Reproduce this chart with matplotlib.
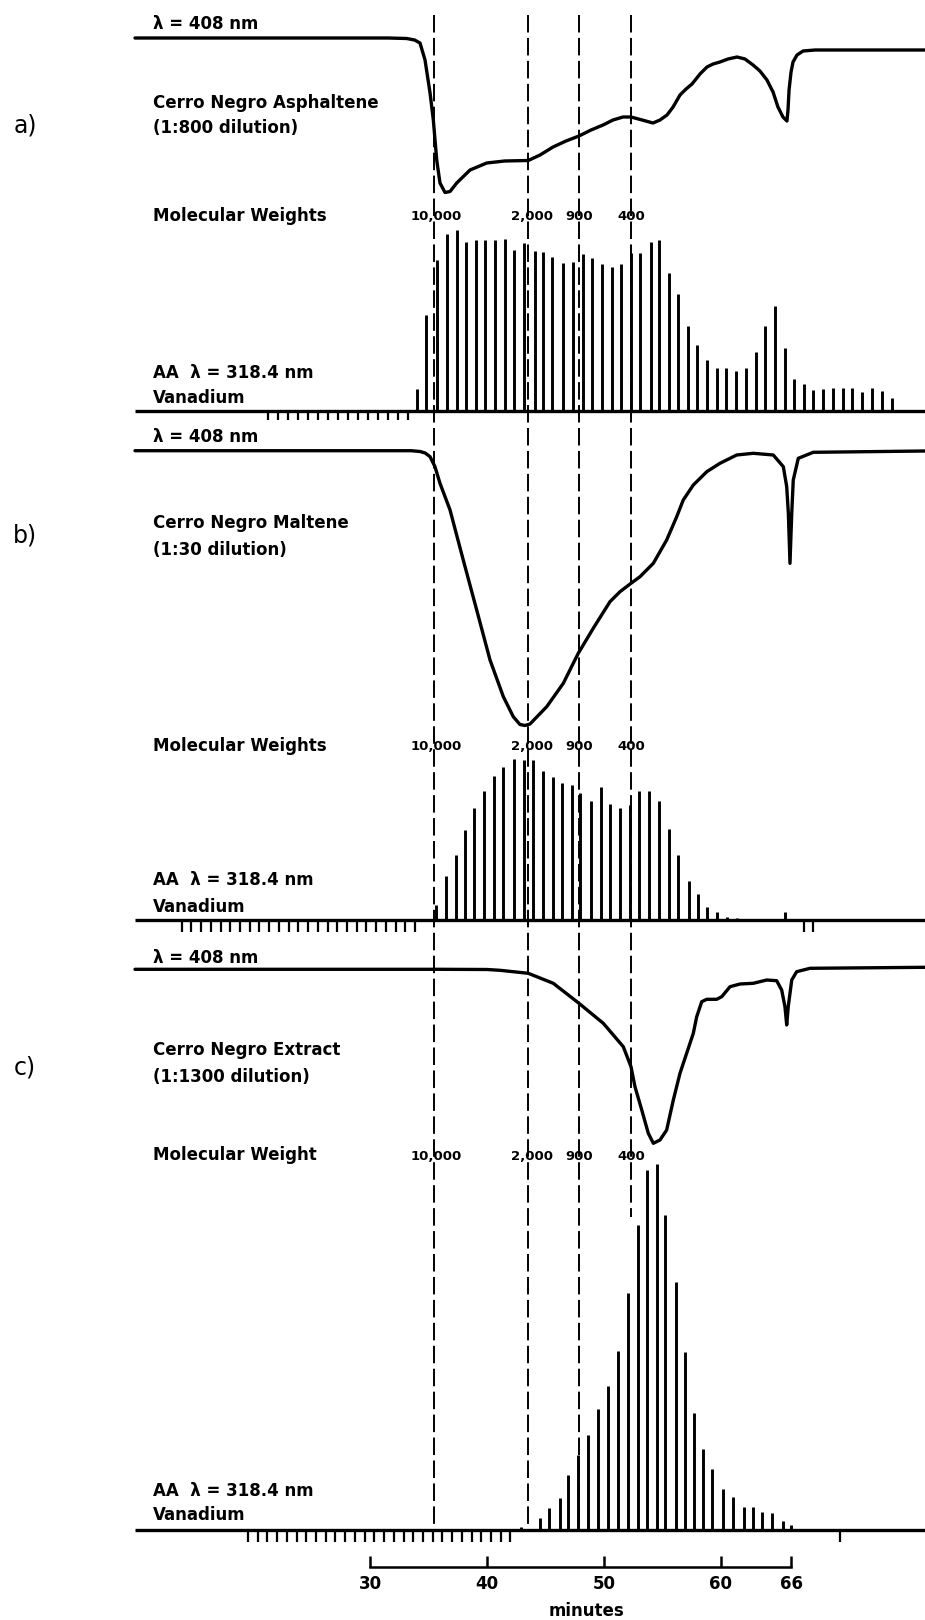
import numpy as np
import matplotlib
matplotlib.use("Agg")
import matplotlib.pyplot as plt

# ---------------- data ----------------
# molecular-weight calibration (retention time, minutes)
mw_labels = ["10,000", "2,000", "900", "400"]
mw_times = [35.48, 43.53, 47.86, 52.31]

# time axis
axis_ticks = [30, 40, 50, 60, 66]
axis_labels = ["30", "40", "50", "60", "66"]

# ---- UV-Vis traces, lambda = 408 nm (time in min, response in chart units; dips = absorbance)
uv_a_time = [9.88, 24.0, 31.5, 33.12, 33.8, 34.26, 34.69, 35.12, 35.40, 35.69, 35.97, 36.40, 36.83,
             37.40, 38.54, 39.97, 41.5, 43.52, 44.53, 45.64, 46.75, 47.86, 48.89, 49.92, 50.77, 51.63,
             52.31, 53.26, 54.19, 54.79, 55.39, 55.91, 56.50, 57.02, 57.53, 58.21, 58.81, 59.33, 59.92,
             60.61, 61.38, 62.06, 62.75, 63.34, 63.94, 64.46, 64.88, 65.31, 65.65, 65.74, 65.83, 66.00,
             66.17, 66.51, 67.03, 68.06, 77.47]
uv_a_resp = [0, 0, 0, -0.5, -2, -5, -22, -55, -82, -122, -145, -154.5, -153.5, -145, -132, -125, -123,
             -122.5, -117, -109, -103, -98, -92, -87, -82, -79, -79, -82, -85, -82, -77, -69, -57, -51,
             -46, -36, -29, -26, -24, -21, -19, -21, -27, -33, -42, -54, -69, -79, -83, -72, -52, -34,
             -24, -17, -13, -12, -12]

uv_b_time = [9.88, 24.0, 33.5, 34.26, 34.7, 35.12, 35.54, 35.97, 36.83, 37.96, 39.11, 40.25, 41.39,
             42.24, 42.81, 43.24, 43.67, 45.10, 46.52, 47.37, 47.80, 49.08, 50.51, 51.37, 52.31, 53.08,
             54.22, 55.36, 56.22, 56.78, 57.64, 58.79, 59.92, 61.35, 62.77, 64.48, 65.34, 65.63, 65.77,
             65.91, 66.06, 66.19, 66.62, 67.90, 77.46]
uv_b_resp = [0, 0, 0, -0.8, -2.3, -6, -16, -32.6, -59.3, -109.3, -159.3, -209.3, -246, -266, -273.8,
             -274.8, -273.3, -256, -232.6, -212.6, -202.6, -177.6, -151, -141, -132.6, -126, -112.6,
             -89.3, -66, -49.3, -34.3, -21, -12.6, -4.3, -2.6, -4.3, -16, -36, -62.6, -112.6, -62.6,
             -29.3, -7.6, -1.6, -0.3]

uv_c_time = [9.88, 24.0, 36.0, 39.99, 41.1, 42.24, 43.52, 45.66, 47.86, 49.94, 51.65, 52.31, 52.65,
             53.23, 53.79, 54.22, 54.79, 55.36, 55.93, 56.50, 57.07, 57.64, 57.93, 58.36, 58.79, 59.64,
             60.07, 60.78, 61.64, 62.77, 63.92, 64.77, 65.20, 65.48, 65.63, 65.76, 66.06, 66.48, 67.62,
             77.46]
uv_c_resp = [0, 0, 0, -0.2, -1, -2.4, -4, -14, -34, -54, -77.4, -97.4, -117.4, -140.7, -164, -174,
             -170.7, -160.7, -130.7, -104, -84, -64, -47.4, -32.4, -30, -30, -27.4, -17.4, -14.7, -14,
             -10.7, -11.4, -20.7, -37.4, -55.7, -37.4, -10.7, -2.4, 1, 2]

# ---- AA vanadium (318.4 nm) fraction responses
v_a_time = [33.98, 34.77, 35.69, 36.54, 37.40, 38.17, 39.05, 39.82, 40.68, 41.53, 42.30, 43.16, 44.10,
            44.76, 45.58, 46.47, 47.32, 48.18, 48.97, 49.83, 50.66, 51.45, 52.31, 53.08, 53.99, 54.73,
            55.59, 56.36, 57.19, 57.96, 58.84, 59.64, 60.41, 61.29, 62.12, 62.98, 63.80, 64.65, 65.46,
            66.28, 67.08, 67.90, 68.76, 69.59, 70.42, 71.24, 72.10, 72.95, 73.76, 74.64]
v_a_height = [22, 96, 151, 177, 181, 169, 171, 171, 171, 172, 161, 168, 160, 159, 154, 148, 149, 157,
              153, 147, 144, 147, 158, 158, 169, 171, 138, 117, 85, 66, 51, 43, 43, 40, 43, 59, 85, 105,
              63, 32, 27, 21, 22, 23, 23, 23, 19, 23, 20, 13]
v_a_empty = [21.26, 22.12, 22.97, 23.83, 24.68, 25.54, 26.40, 27.25, 28.11, 28.96, 29.82, 30.68, 31.53,
             32.39, 33.24]

v_b_time = [35.63, 36.48, 37.34, 38.11, 38.91, 39.74, 40.60, 41.39, 42.30, 43.13, 43.93, 44.76, 45.61,
            46.43, 47.24, 47.97, 48.91, 49.77, 50.51, 51.37, 52.25, 53.02, 53.85, 54.73, 55.56, 56.36,
            57.25, 58.07, 58.79, 59.69, 60.50, 61.35, 65.48]
v_b_height = [15, 44, 65, 90, 112, 129, 144, 153, 161, 160, 160, 149, 143, 137, 135, 127, 119, 133, 116,
              112, 115, 129, 129, 119, 91, 65, 39, 26, 13, 8, 3, 2.5, 8]
v_b_empty = [13.88, 14.71, 15.54, 16.37, 17.21, 18.04, 18.87, 19.70, 20.53, 21.36, 22.19, 23.03, 23.86,
             24.69, 25.52, 26.35, 27.18, 28.01, 28.85, 29.68, 30.51, 31.34, 32.17, 33.00, 33.83, 67.10,
             67.87]

v_c_time = [42.90, 44.49, 45.33, 46.20, 46.95, 47.80, 48.61, 49.51, 50.35, 51.17, 52.02, 52.87, 53.70,
            54.53, 55.26, 56.16, 56.92, 57.66, 58.44, 59.28, 60.18, 61.05, 61.95, 62.76, 63.54, 64.41,
            65.28, 66.00]
v_c_height = [3, 12, 22, 32, 55, 75, 95, 121, 144, 179, 237, 305, 360, 366, 315, 248, 178, 117, 81, 61,
              41, 33, 23, 23, 18, 17, 9, 5]
v_c_empty = [19.55, 20.38, 21.21, 22.04, 22.88, 23.71, 24.54, 25.37, 26.20, 27.03, 27.86, 28.70, 29.53,
             30.36, 31.19, 32.02, 32.85, 33.68, 34.52, 35.35, 36.18, 37.01, 37.84, 38.67, 39.50, 40.34,
             41.17, 42.00, 70.17]

trace_start = 9.88

# ---------------- layout ----------------
W, H = 925, 1620
X0_PX, MIN0, PX_PER_MIN = 370.2, 30.0, 11.69
XLIM = (MIN0 - X0_PX / PX_PER_MIN, MIN0 + (W - X0_PX) / PX_PER_MIN)

fig = plt.figure(figsize=(W / 100, H / 100), dpi=100)
fig.patch.set_facecolor("white")

BOLD = dict(family="DejaVu Sans", fontweight="bold", color="black")


def add_strip(y_top, y_bot, ref):
    ax = fig.add_axes([0, 1 - y_bot / H, 1, (y_bot - y_top) / H])
    ax.set_xlim(*XLIM)
    ax.set_ylim(ref - y_bot, ref - y_top)
    ax.set_axis_off()
    return ax


# page axes: x in minutes, y in pixel rows
page = fig.add_axes([0, 0, 1, 1])
page.set_xlim(*XLIM)
page.set_ylim(H, 0)
page.set_axis_off()

# page axes for free text (pixels)
txt = fig.add_axes([0, 0, 1, 1])
txt.set_xlim(0, W)
txt.set_ylim(H, 0)
txt.set_axis_off()

# dashed calibration lines
dash_bottoms = [1530, 1528, 1530, 1217]
for t, yb in zip(mw_times, dash_bottoms):
    page.plot([t, t], [15, yb], color="black", lw=1.4, dashes=(9, 2.8))

# ---- UV traces
uv_sets = [
    (uv_a_time, uv_a_resp, 0, 230, 38),
    (uv_b_time, uv_b_resp, 425, 740, 450.7),
    (uv_c_time, uv_c_resp, 940, 1160, 969.3),
]
for tt, rr, yt, yb, ref in uv_sets:
    ax = add_strip(yt, yb, ref)
    ax.plot(tt, rr, color="black", lw=2.4, solid_joinstyle="round", solid_capstyle="round")

# ---- vanadium fractions
v_sets = [
    (v_a_time, v_a_height, v_a_empty, 200, 440, 410.5, 9),
    (v_b_time, v_b_height, v_b_empty, 740, 950, 920, 12),
    (v_c_time, v_c_height, v_c_empty, 1150, 1555, 1530, 12),
]
for tt, hh, ee, yt, yb, ref, tl in v_sets:
    ax = add_strip(yt, yb, ref)
    ax.hlines(0, trace_start, XLIM[1], color="black", lw=2.4)
    ax.vlines(tt, 0, hh, color="black", lw=2.1)
    ax.vlines(ee, -tl, 0, color="black", lw=1.6)

# ---- MW labels
mw_label_shift = [0.15, 0.3, 0.0, 0.05]
for y in (216, 747, 1156):
    for lab, t, dt in zip(mw_labels, mw_times, mw_label_shift):
        page.text(t + dt, y, lab, ha="center", va="center", fontsize=9.5, **BOLD)

# ---- panel texts
X_TXT = 153
panel_text = [
    ("\u03bb = 408 nm", 24), ("Cerro Negro Asphaltene", 103), ("(1:800 dilution)", 128),
    ("Molecular Weights", 216), ("AA  \u03bb = 318.4 nm", 373), ("Vanadium", 398),
    ("\u03bb = 408 nm", 437), ("Cerro Negro Maltene", 523), ("(1:30 dilution)", 550),
    ("Molecular Weights", 746), ("AA  \u03bb = 318.4 nm", 880), ("Vanadium", 907),
    ("\u03bb = 408 nm", 958), ("Cerro Negro Extract", 1050), ("(1:1300 dilution)", 1077),
    ("Molecular Weight", 1155), ("AA  \u03bb = 318.4 nm", 1491), ("Vanadium", 1515),
]
for s, y in panel_text:
    txt.text(X_TXT, y, s, ha="left", va="center", fontsize=12, **BOLD)

for s, y in (("a)", 126), ("b)", 535), ("c)", 1068)):
    txt.text(25, y, s, ha="center", va="center", fontsize=17, family="DejaVu Sans", color="black")

# ---- time axis
AX_Y, TICK_TOP = 1566.7, 1556
page.plot([axis_ticks[0], axis_ticks[-1]], [AX_Y, AX_Y], color="black", lw=1.8)
page.vlines(axis_ticks, TICK_TOP, AX_Y, color="black", lw=1.8)
for t, lab in zip(axis_ticks, axis_labels):
    page.text(t, 1584, lab, ha="center", va="center", fontsize=12, **BOLD)
page.text(48.5, 1611, "minutes", ha="center", va="center", fontsize=12, **BOLD)

fig.savefig("out.png", dpi=100, facecolor="white")
